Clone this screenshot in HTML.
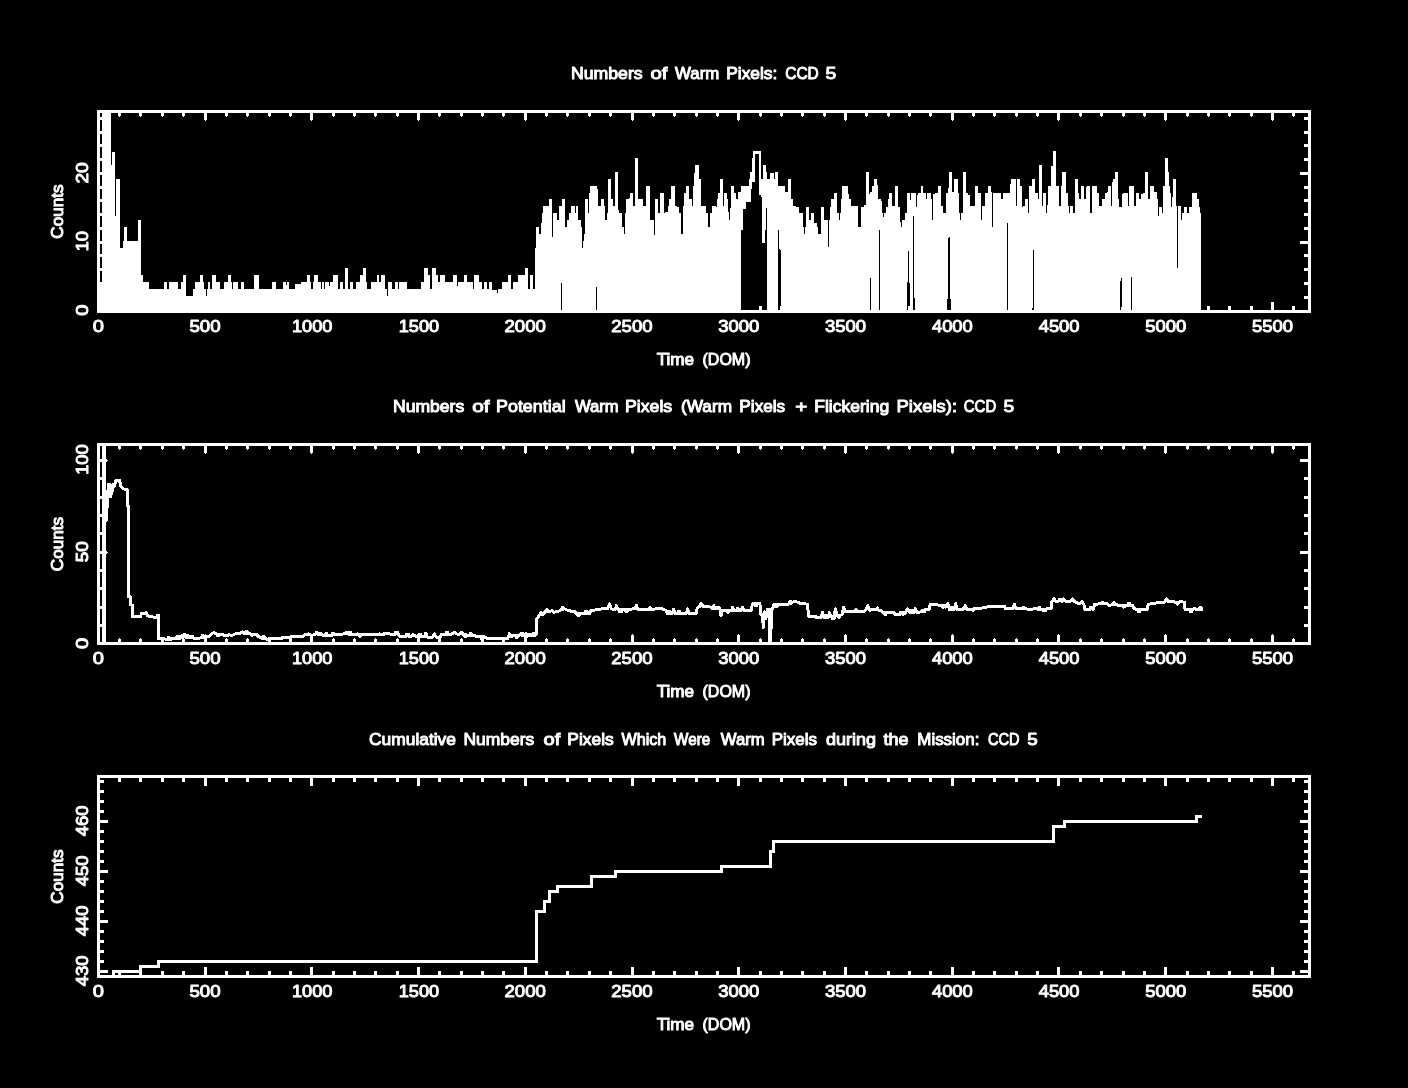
<!DOCTYPE html>
<html lang="en"><head><meta charset="utf-8"><title>Warm Pixels: CCD 5</title>
<style>
html,body{margin:0;padding:0;background:#000;}
svg{display:block;}
text{font-family:"Liberation Sans",sans-serif;font-weight:normal;font-size:17px;fill:#fff;stroke:#fff;stroke-width:1px;stroke-linejoin:round;}
</style></head>
<body>
<svg width="1408" height="1088" viewBox="0 0 1408 1088">
<rect width="1408" height="1088" fill="#000"/>
<g shape-rendering="crispEdges">
<path d="M102 310V113H111 V165H112 V152H115 V216H116 V179H120 V248H123 V241H124 V227H127 V241H138 V220H141 V275H143 V282H149 V289H164 V282H167 V289H169 V282H178 V289H181 V282H183 V275H186 V296H193 V289H195 V282H200 V275H203 V282H204 V289H206 V296H207 V289H208 V282H210 V289H212 V275H216 V282H220 V289H224 V282H228 V275H231 V282H232 V289H233 V282H238 V289H241 V282H244 V289H254 V275H259 V289H272 V282H276 V289H283 V282H286 V285H287 V282H289 V289H295 V284H301 V282H307 V275H310 V282H311 V289H313 V282H314 V275H318 V282H321 V289H322 V282H324 V289H325 V282H329 V286H330 V282H333 V275H338 V289H340 V282H343 V289H345 V268H348 V289H350 V282H353 V289H356 V282H360 V275H363 V268H366 V282H367 V289H371 V282H377 V275H379 V282H381 V275H385 V289H387 V296H388 V282H392 V289H395 V282H398 V289H399 V282H407 V289H421 V282H424 V268H428 V275H430 V289H432 V268H436 V275H438 V282H440 V275H445 V282H453 V275H457 V286H458 V282H464 V275H467 V282H473 V289H474 V275H479 V282H482 V289H484 V282H487 V289H489 V282H492 V290H497 V293H498 V289H502 V282H508 V275H511 V289H513 V282H518 V275H525 V268H528 V289H530 V275H533 V289H535 V248H536 V227H539 V234H541 V223H542 V213H543 V206H549 V199H552 V237H553 V213H557 V220H559 V206H562 V199H565 V227H567 V220H569 V213H571 V206H575 V213H576 V206H578 V220H581 V227H582 V248H583 V241H584 V234H585 V199H588 V213H589 V193H590 V186H597 V189H598 V206H601 V199H604 V206H605 V220H607 V213H608 V179H611 V199H613 V206H615 V172H618 V210H619 V213H622 V227H624 V234H625 V213H626 V199H629 V198H630 V193H633 V206H635 V158H638 V199H643 V206H646 V186H650 V220H654 V235H655 V199H658 V213H660 V193H664 V213H665 V212H668 V206H669 V199H671 V186H675 V206H677 V207H679 V213H681 V234H683 V206H684 V193H686 V186H689 V199H692 V206H693 V186H694 V173H695 V165H699 V179H701 V206H706 V213H708 V227H710 V213H712 V206H716 V207H717 V199H718 V193H720 V179H723 V206H724 V193H727 V199H728 V212H729 V220H730 V208H731 V186H734 V193H736 V199H738 V192H741 V186H749 V179H750 V172H752 V158H753 V151H761 V179H763 V165H766 V172H767 V179H770 V173H774 V179H775 V172H778 V186H785 V192H788 V179H791 V199H793 V206H796 V207H799 V213H803 V227H804 V234H805 V227H806 V207H809 V220H811 V213H814 V223H817 V227H818 V234H821 V207H824 V220H828 V247H829 V220H830 V207H831 V199H834 V193H837 V213H839 V220H840 V213H841 V199H842 V186H848 V194H849 V199H851 V206H858 V227H861 V207H864 V205H866 V172H869 V194H870 V192H872 V186H874 V179H877 V185H878 V199H881 V201H882 V213H883 V217H884 V213H886 V207H888 V199H889 V193H892 V206H895 V186H898 V207H900 V222H901 V227H902 V220H905 V213H907 V193H910 V200H911 V193H916 V207H917 V195H918 V193H921 V186H923 V193H926 V199H927 V193H931 V199H932 V220H933 V194H935 V193H938 V186H941 V206H943 V213H946 V193H948 V188H949 V172H952 V192H954 V179H958 V193H959 V213H960 V220H961 V213H963 V172H966 V193H968 V195H970 V206H975 V186H978 V193H981 V220H982 V206H985 V193H988 V186H991 V192H992 V227H993 V193H1001 V199H1003 V193H1010 V184H1011 V179H1016 V206H1017 V179H1020 V186H1022 V207H1023 V206H1025 V199H1028 V213H1029 V186H1032 V179H1035 V193H1038 V199H1039 V165H1042 V206H1043 V193H1046 V213H1047 V205H1048 V186H1051 V166H1053 V151H1056 V186H1059 V206H1061 V186H1062 V172H1066 V193H1068 V206H1069 V213H1070 V206H1073 V213H1075 V179H1078 V193H1079 V199H1081 V186H1084 V199H1086 V187H1087 V186H1090 V213H1092 V186H1097 V193H1099 V206H1102 V199H1105 V193H1107 V192H1108 V186H1111 V206H1112 V182H1113 V179H1115 V172H1118 V199H1119 V207H1122 V194H1123 V193H1128 V206H1129 V186H1134 V206H1136 V193H1139 V199H1141 V194H1143 V193H1145 V172H1148 V199H1150 V186H1154 V192H1157 V199H1158 V216H1159 V207H1162 V213H1163 V186H1165 V158H1168 V172H1169 V186H1170 V193H1171 V207H1172 V197H1173 V179H1176 V206H1181 V220H1182 V213H1184 V207H1187 V213H1189 V207H1192 V193H1197 V199H1199 V207H1200 V213H1201 V310 Z" fill="#fff"/>
<polygon points="561,283 562,283 562,310 561,310" fill="#000"/><polygon points="596,287 597,287 597,310 596,310" fill="#000"/><polygon points="741,310 741,230 743,230 743,209 746,209 746,202 751,202 751,189 752,189 752,182 755,182 755,154 759,154 759,195 761,195 761,197 762,197 762,243 765,243 765,230 766,230 766,208 767,208 767,310 762,310 762,306 759,306 759,310" fill="#000"/><polygon points="778,230 779,230 779,249 781,251 781,305 780,310 778,310" fill="#000"/><polygon points="870,278 871,278 871,310 870,310" fill="#000"/><polygon points="879,230 880,230 880,310 879,310" fill="#000"/><polygon points="908,251 909,251 909,282 910,284 910,306 908,306 908,310 907,310 907,282 908,282" fill="#000"/><polygon points="913,216 914,216 914,298 915,298 915,310 913,310" fill="#000"/><polygon points="948,238 950,236 950,299 951,299 951,310 947,310 947,299 948,299" fill="#000"/><polygon points="1007,223 1008,223 1008,310 1007,310" fill="#000"/><polygon points="1033,250 1034,250 1034,310 1032,310 1032,308 1033,308" fill="#000"/><polygon points="1121,278 1122,278 1122,305 1121,310 1120,310 1120,284" fill="#000"/><polygon points="1131,277 1132,277 1132,310 1131,310" fill="#000"/><polygon points="1177,206 1178,206 1178,268 1177,268" fill="#000"/><rect x="100" y="113" width="2" height="169" fill="#000"/><rect x="100" y="282" width="2" height="28" fill="#fff"/>
<rect x="97" y="110" width="1214" height="3" fill="#fff"/><rect x="97" y="310" width="1214" height="3" fill="#fff"/><rect x="97" y="110" width="3" height="203" fill="#fff"/><rect x="1308" y="110" width="3" height="203" fill="#fff"/><rect x="118" y="113" width="3" height="3" fill="#fff"/><rect x="119" y="116" width="1" height="1" fill="#fff"/><rect x="118" y="306" width="3" height="4" fill="#fff"/><rect x="139" y="113" width="3" height="3" fill="#fff"/><rect x="140" y="116" width="1" height="1" fill="#fff"/><rect x="139" y="306" width="3" height="4" fill="#fff"/><rect x="161" y="113" width="3" height="3" fill="#fff"/><rect x="162" y="116" width="1" height="1" fill="#fff"/><rect x="161" y="306" width="3" height="4" fill="#fff"/><rect x="182" y="113" width="3" height="3" fill="#fff"/><rect x="183" y="116" width="1" height="1" fill="#fff"/><rect x="182" y="306" width="3" height="4" fill="#fff"/><rect x="204" y="113" width="3" height="7" fill="#fff"/><rect x="205" y="120" width="1" height="1" fill="#fff"/><rect x="204" y="302" width="3" height="8" fill="#fff"/><rect x="225" y="113" width="3" height="3" fill="#fff"/><rect x="226" y="116" width="1" height="1" fill="#fff"/><rect x="225" y="306" width="3" height="4" fill="#fff"/><rect x="246" y="113" width="3" height="3" fill="#fff"/><rect x="247" y="116" width="1" height="1" fill="#fff"/><rect x="246" y="306" width="3" height="4" fill="#fff"/><rect x="268" y="113" width="3" height="3" fill="#fff"/><rect x="269" y="116" width="1" height="1" fill="#fff"/><rect x="268" y="306" width="3" height="4" fill="#fff"/><rect x="289" y="113" width="3" height="3" fill="#fff"/><rect x="290" y="116" width="1" height="1" fill="#fff"/><rect x="289" y="306" width="3" height="4" fill="#fff"/><rect x="310" y="113" width="3" height="7" fill="#fff"/><rect x="311" y="120" width="1" height="1" fill="#fff"/><rect x="310" y="302" width="3" height="8" fill="#fff"/><rect x="332" y="113" width="3" height="3" fill="#fff"/><rect x="333" y="116" width="1" height="1" fill="#fff"/><rect x="332" y="306" width="3" height="4" fill="#fff"/><rect x="353" y="113" width="3" height="3" fill="#fff"/><rect x="354" y="116" width="1" height="1" fill="#fff"/><rect x="353" y="306" width="3" height="4" fill="#fff"/><rect x="374" y="113" width="3" height="3" fill="#fff"/><rect x="375" y="116" width="1" height="1" fill="#fff"/><rect x="374" y="306" width="3" height="4" fill="#fff"/><rect x="396" y="113" width="3" height="3" fill="#fff"/><rect x="397" y="116" width="1" height="1" fill="#fff"/><rect x="396" y="306" width="3" height="4" fill="#fff"/><rect x="417" y="113" width="3" height="7" fill="#fff"/><rect x="418" y="120" width="1" height="1" fill="#fff"/><rect x="417" y="302" width="3" height="8" fill="#fff"/><rect x="438" y="113" width="3" height="3" fill="#fff"/><rect x="439" y="116" width="1" height="1" fill="#fff"/><rect x="438" y="306" width="3" height="4" fill="#fff"/><rect x="460" y="113" width="3" height="3" fill="#fff"/><rect x="461" y="116" width="1" height="1" fill="#fff"/><rect x="460" y="306" width="3" height="4" fill="#fff"/><rect x="481" y="113" width="3" height="3" fill="#fff"/><rect x="482" y="116" width="1" height="1" fill="#fff"/><rect x="481" y="306" width="3" height="4" fill="#fff"/><rect x="502" y="113" width="3" height="3" fill="#fff"/><rect x="503" y="116" width="1" height="1" fill="#fff"/><rect x="502" y="306" width="3" height="4" fill="#fff"/><rect x="524" y="113" width="3" height="7" fill="#fff"/><rect x="525" y="120" width="1" height="1" fill="#fff"/><rect x="524" y="302" width="3" height="8" fill="#fff"/><rect x="545" y="113" width="3" height="3" fill="#fff"/><rect x="546" y="116" width="1" height="1" fill="#fff"/><rect x="545" y="306" width="3" height="4" fill="#fff"/><rect x="566" y="113" width="3" height="3" fill="#fff"/><rect x="567" y="116" width="1" height="1" fill="#fff"/><rect x="566" y="306" width="3" height="4" fill="#fff"/><rect x="588" y="113" width="3" height="3" fill="#fff"/><rect x="589" y="116" width="1" height="1" fill="#fff"/><rect x="588" y="306" width="3" height="4" fill="#fff"/><rect x="609" y="113" width="3" height="3" fill="#fff"/><rect x="610" y="116" width="1" height="1" fill="#fff"/><rect x="609" y="306" width="3" height="4" fill="#fff"/><rect x="631" y="113" width="3" height="7" fill="#fff"/><rect x="632" y="120" width="1" height="1" fill="#fff"/><rect x="631" y="302" width="3" height="8" fill="#fff"/><rect x="652" y="113" width="3" height="3" fill="#fff"/><rect x="653" y="116" width="1" height="1" fill="#fff"/><rect x="652" y="306" width="3" height="4" fill="#fff"/><rect x="673" y="113" width="3" height="3" fill="#fff"/><rect x="674" y="116" width="1" height="1" fill="#fff"/><rect x="673" y="306" width="3" height="4" fill="#fff"/><rect x="695" y="113" width="3" height="3" fill="#fff"/><rect x="696" y="116" width="1" height="1" fill="#fff"/><rect x="695" y="306" width="3" height="4" fill="#fff"/><rect x="716" y="113" width="3" height="3" fill="#fff"/><rect x="717" y="116" width="1" height="1" fill="#fff"/><rect x="716" y="306" width="3" height="4" fill="#fff"/><rect x="737" y="113" width="3" height="7" fill="#fff"/><rect x="738" y="120" width="1" height="1" fill="#fff"/><rect x="737" y="302" width="3" height="8" fill="#fff"/><rect x="759" y="113" width="3" height="3" fill="#fff"/><rect x="760" y="116" width="1" height="1" fill="#fff"/><rect x="759" y="306" width="3" height="4" fill="#fff"/><rect x="780" y="113" width="3" height="3" fill="#fff"/><rect x="781" y="116" width="1" height="1" fill="#fff"/><rect x="780" y="306" width="3" height="4" fill="#fff"/><rect x="801" y="113" width="3" height="3" fill="#fff"/><rect x="802" y="116" width="1" height="1" fill="#fff"/><rect x="801" y="306" width="3" height="4" fill="#fff"/><rect x="823" y="113" width="3" height="3" fill="#fff"/><rect x="824" y="116" width="1" height="1" fill="#fff"/><rect x="823" y="306" width="3" height="4" fill="#fff"/><rect x="844" y="113" width="3" height="7" fill="#fff"/><rect x="845" y="120" width="1" height="1" fill="#fff"/><rect x="844" y="302" width="3" height="8" fill="#fff"/><rect x="865" y="113" width="3" height="3" fill="#fff"/><rect x="866" y="116" width="1" height="1" fill="#fff"/><rect x="865" y="306" width="3" height="4" fill="#fff"/><rect x="887" y="113" width="3" height="3" fill="#fff"/><rect x="888" y="116" width="1" height="1" fill="#fff"/><rect x="887" y="306" width="3" height="4" fill="#fff"/><rect x="908" y="113" width="3" height="3" fill="#fff"/><rect x="909" y="116" width="1" height="1" fill="#fff"/><rect x="908" y="306" width="3" height="4" fill="#fff"/><rect x="929" y="113" width="3" height="3" fill="#fff"/><rect x="930" y="116" width="1" height="1" fill="#fff"/><rect x="929" y="306" width="3" height="4" fill="#fff"/><rect x="951" y="113" width="3" height="7" fill="#fff"/><rect x="952" y="120" width="1" height="1" fill="#fff"/><rect x="951" y="302" width="3" height="8" fill="#fff"/><rect x="972" y="113" width="3" height="3" fill="#fff"/><rect x="973" y="116" width="1" height="1" fill="#fff"/><rect x="972" y="306" width="3" height="4" fill="#fff"/><rect x="993" y="113" width="3" height="3" fill="#fff"/><rect x="994" y="116" width="1" height="1" fill="#fff"/><rect x="993" y="306" width="3" height="4" fill="#fff"/><rect x="1015" y="113" width="3" height="3" fill="#fff"/><rect x="1016" y="116" width="1" height="1" fill="#fff"/><rect x="1015" y="306" width="3" height="4" fill="#fff"/><rect x="1036" y="113" width="3" height="3" fill="#fff"/><rect x="1037" y="116" width="1" height="1" fill="#fff"/><rect x="1036" y="306" width="3" height="4" fill="#fff"/><rect x="1057" y="113" width="3" height="7" fill="#fff"/><rect x="1058" y="120" width="1" height="1" fill="#fff"/><rect x="1057" y="302" width="3" height="8" fill="#fff"/><rect x="1079" y="113" width="3" height="3" fill="#fff"/><rect x="1080" y="116" width="1" height="1" fill="#fff"/><rect x="1079" y="306" width="3" height="4" fill="#fff"/><rect x="1100" y="113" width="3" height="3" fill="#fff"/><rect x="1101" y="116" width="1" height="1" fill="#fff"/><rect x="1100" y="306" width="3" height="4" fill="#fff"/><rect x="1122" y="113" width="3" height="3" fill="#fff"/><rect x="1123" y="116" width="1" height="1" fill="#fff"/><rect x="1122" y="306" width="3" height="4" fill="#fff"/><rect x="1143" y="113" width="3" height="3" fill="#fff"/><rect x="1144" y="116" width="1" height="1" fill="#fff"/><rect x="1143" y="306" width="3" height="4" fill="#fff"/><rect x="1164" y="113" width="3" height="7" fill="#fff"/><rect x="1165" y="120" width="1" height="1" fill="#fff"/><rect x="1164" y="302" width="3" height="8" fill="#fff"/><rect x="1186" y="113" width="3" height="3" fill="#fff"/><rect x="1187" y="116" width="1" height="1" fill="#fff"/><rect x="1186" y="306" width="3" height="4" fill="#fff"/><rect x="1207" y="113" width="3" height="3" fill="#fff"/><rect x="1208" y="116" width="1" height="1" fill="#fff"/><rect x="1207" y="306" width="3" height="4" fill="#fff"/><rect x="1228" y="113" width="3" height="3" fill="#fff"/><rect x="1229" y="116" width="1" height="1" fill="#fff"/><rect x="1228" y="306" width="3" height="4" fill="#fff"/><rect x="1250" y="113" width="3" height="3" fill="#fff"/><rect x="1251" y="116" width="1" height="1" fill="#fff"/><rect x="1250" y="306" width="3" height="4" fill="#fff"/><rect x="1271" y="113" width="3" height="7" fill="#fff"/><rect x="1272" y="120" width="1" height="1" fill="#fff"/><rect x="1271" y="302" width="3" height="8" fill="#fff"/><rect x="1292" y="113" width="3" height="3" fill="#fff"/><rect x="1293" y="116" width="1" height="1" fill="#fff"/><rect x="1292" y="306" width="3" height="4" fill="#fff"/><rect x="100" y="296" width="4" height="3" fill="#fff"/><rect x="1304" y="296" width="4" height="3" fill="#fff"/><rect x="100" y="282" width="4" height="3" fill="#fff"/><rect x="1304" y="282" width="4" height="3" fill="#fff"/><rect x="100" y="268" width="4" height="3" fill="#fff"/><rect x="1304" y="268" width="4" height="3" fill="#fff"/><rect x="100" y="254" width="4" height="3" fill="#fff"/><rect x="1304" y="254" width="4" height="3" fill="#fff"/><rect x="100" y="241" width="8" height="3" fill="#fff"/><rect x="1300" y="241" width="8" height="3" fill="#fff"/><rect x="100" y="227" width="4" height="3" fill="#fff"/><rect x="1304" y="227" width="4" height="3" fill="#fff"/><rect x="100" y="213" width="4" height="3" fill="#fff"/><rect x="1304" y="213" width="4" height="3" fill="#fff"/><rect x="100" y="199" width="4" height="3" fill="#fff"/><rect x="1304" y="199" width="4" height="3" fill="#fff"/><rect x="100" y="186" width="4" height="3" fill="#fff"/><rect x="1304" y="186" width="4" height="3" fill="#fff"/><rect x="100" y="172" width="8" height="3" fill="#fff"/><rect x="1300" y="172" width="8" height="3" fill="#fff"/><rect x="100" y="158" width="4" height="3" fill="#fff"/><rect x="1304" y="158" width="4" height="3" fill="#fff"/><rect x="100" y="144" width="4" height="3" fill="#fff"/><rect x="1304" y="144" width="4" height="3" fill="#fff"/><rect x="100" y="131" width="4" height="3" fill="#fff"/><rect x="1304" y="131" width="4" height="3" fill="#fff"/><rect x="100" y="117" width="4" height="3" fill="#fff"/><rect x="1304" y="117" width="4" height="3" fill="#fff"/>
<rect x="97" y="443" width="1214" height="3" fill="#fff"/><rect x="97" y="642" width="1214" height="3" fill="#fff"/><rect x="97" y="443" width="3" height="202" fill="#fff"/><rect x="1308" y="443" width="3" height="202" fill="#fff"/><rect x="118" y="446" width="3" height="3" fill="#fff"/><rect x="119" y="449" width="1" height="1" fill="#fff"/><rect x="118" y="639" width="3" height="3" fill="#fff"/><rect x="119" y="638" width="1" height="1" fill="#fff"/><rect x="139" y="446" width="3" height="3" fill="#fff"/><rect x="140" y="449" width="1" height="1" fill="#fff"/><rect x="139" y="639" width="3" height="3" fill="#fff"/><rect x="140" y="638" width="1" height="1" fill="#fff"/><rect x="161" y="446" width="3" height="3" fill="#fff"/><rect x="162" y="449" width="1" height="1" fill="#fff"/><rect x="161" y="639" width="3" height="3" fill="#fff"/><rect x="162" y="638" width="1" height="1" fill="#fff"/><rect x="182" y="446" width="3" height="3" fill="#fff"/><rect x="183" y="449" width="1" height="1" fill="#fff"/><rect x="182" y="639" width="3" height="3" fill="#fff"/><rect x="183" y="638" width="1" height="1" fill="#fff"/><rect x="204" y="446" width="3" height="7" fill="#fff"/><rect x="205" y="453" width="1" height="1" fill="#fff"/><rect x="204" y="635" width="3" height="7" fill="#fff"/><rect x="205" y="634" width="1" height="1" fill="#fff"/><rect x="225" y="446" width="3" height="3" fill="#fff"/><rect x="226" y="449" width="1" height="1" fill="#fff"/><rect x="225" y="639" width="3" height="3" fill="#fff"/><rect x="226" y="638" width="1" height="1" fill="#fff"/><rect x="246" y="446" width="3" height="3" fill="#fff"/><rect x="247" y="449" width="1" height="1" fill="#fff"/><rect x="246" y="639" width="3" height="3" fill="#fff"/><rect x="247" y="638" width="1" height="1" fill="#fff"/><rect x="268" y="446" width="3" height="3" fill="#fff"/><rect x="269" y="449" width="1" height="1" fill="#fff"/><rect x="268" y="639" width="3" height="3" fill="#fff"/><rect x="269" y="638" width="1" height="1" fill="#fff"/><rect x="289" y="446" width="3" height="3" fill="#fff"/><rect x="290" y="449" width="1" height="1" fill="#fff"/><rect x="289" y="639" width="3" height="3" fill="#fff"/><rect x="290" y="638" width="1" height="1" fill="#fff"/><rect x="310" y="446" width="3" height="7" fill="#fff"/><rect x="311" y="453" width="1" height="1" fill="#fff"/><rect x="310" y="635" width="3" height="7" fill="#fff"/><rect x="311" y="634" width="1" height="1" fill="#fff"/><rect x="332" y="446" width="3" height="3" fill="#fff"/><rect x="333" y="449" width="1" height="1" fill="#fff"/><rect x="332" y="639" width="3" height="3" fill="#fff"/><rect x="333" y="638" width="1" height="1" fill="#fff"/><rect x="353" y="446" width="3" height="3" fill="#fff"/><rect x="354" y="449" width="1" height="1" fill="#fff"/><rect x="353" y="639" width="3" height="3" fill="#fff"/><rect x="354" y="638" width="1" height="1" fill="#fff"/><rect x="374" y="446" width="3" height="3" fill="#fff"/><rect x="375" y="449" width="1" height="1" fill="#fff"/><rect x="374" y="639" width="3" height="3" fill="#fff"/><rect x="375" y="638" width="1" height="1" fill="#fff"/><rect x="396" y="446" width="3" height="3" fill="#fff"/><rect x="397" y="449" width="1" height="1" fill="#fff"/><rect x="396" y="639" width="3" height="3" fill="#fff"/><rect x="397" y="638" width="1" height="1" fill="#fff"/><rect x="417" y="446" width="3" height="7" fill="#fff"/><rect x="418" y="453" width="1" height="1" fill="#fff"/><rect x="417" y="635" width="3" height="7" fill="#fff"/><rect x="418" y="634" width="1" height="1" fill="#fff"/><rect x="438" y="446" width="3" height="3" fill="#fff"/><rect x="439" y="449" width="1" height="1" fill="#fff"/><rect x="438" y="639" width="3" height="3" fill="#fff"/><rect x="439" y="638" width="1" height="1" fill="#fff"/><rect x="460" y="446" width="3" height="3" fill="#fff"/><rect x="461" y="449" width="1" height="1" fill="#fff"/><rect x="460" y="639" width="3" height="3" fill="#fff"/><rect x="461" y="638" width="1" height="1" fill="#fff"/><rect x="481" y="446" width="3" height="3" fill="#fff"/><rect x="482" y="449" width="1" height="1" fill="#fff"/><rect x="481" y="639" width="3" height="3" fill="#fff"/><rect x="482" y="638" width="1" height="1" fill="#fff"/><rect x="502" y="446" width="3" height="3" fill="#fff"/><rect x="503" y="449" width="1" height="1" fill="#fff"/><rect x="502" y="639" width="3" height="3" fill="#fff"/><rect x="503" y="638" width="1" height="1" fill="#fff"/><rect x="524" y="446" width="3" height="7" fill="#fff"/><rect x="525" y="453" width="1" height="1" fill="#fff"/><rect x="524" y="635" width="3" height="7" fill="#fff"/><rect x="525" y="634" width="1" height="1" fill="#fff"/><rect x="545" y="446" width="3" height="3" fill="#fff"/><rect x="546" y="449" width="1" height="1" fill="#fff"/><rect x="545" y="639" width="3" height="3" fill="#fff"/><rect x="546" y="638" width="1" height="1" fill="#fff"/><rect x="566" y="446" width="3" height="3" fill="#fff"/><rect x="567" y="449" width="1" height="1" fill="#fff"/><rect x="566" y="639" width="3" height="3" fill="#fff"/><rect x="567" y="638" width="1" height="1" fill="#fff"/><rect x="588" y="446" width="3" height="3" fill="#fff"/><rect x="589" y="449" width="1" height="1" fill="#fff"/><rect x="588" y="639" width="3" height="3" fill="#fff"/><rect x="589" y="638" width="1" height="1" fill="#fff"/><rect x="609" y="446" width="3" height="3" fill="#fff"/><rect x="610" y="449" width="1" height="1" fill="#fff"/><rect x="609" y="639" width="3" height="3" fill="#fff"/><rect x="610" y="638" width="1" height="1" fill="#fff"/><rect x="631" y="446" width="3" height="7" fill="#fff"/><rect x="632" y="453" width="1" height="1" fill="#fff"/><rect x="631" y="635" width="3" height="7" fill="#fff"/><rect x="632" y="634" width="1" height="1" fill="#fff"/><rect x="652" y="446" width="3" height="3" fill="#fff"/><rect x="653" y="449" width="1" height="1" fill="#fff"/><rect x="652" y="639" width="3" height="3" fill="#fff"/><rect x="653" y="638" width="1" height="1" fill="#fff"/><rect x="673" y="446" width="3" height="3" fill="#fff"/><rect x="674" y="449" width="1" height="1" fill="#fff"/><rect x="673" y="639" width="3" height="3" fill="#fff"/><rect x="674" y="638" width="1" height="1" fill="#fff"/><rect x="695" y="446" width="3" height="3" fill="#fff"/><rect x="696" y="449" width="1" height="1" fill="#fff"/><rect x="695" y="639" width="3" height="3" fill="#fff"/><rect x="696" y="638" width="1" height="1" fill="#fff"/><rect x="716" y="446" width="3" height="3" fill="#fff"/><rect x="717" y="449" width="1" height="1" fill="#fff"/><rect x="716" y="639" width="3" height="3" fill="#fff"/><rect x="717" y="638" width="1" height="1" fill="#fff"/><rect x="737" y="446" width="3" height="7" fill="#fff"/><rect x="738" y="453" width="1" height="1" fill="#fff"/><rect x="737" y="635" width="3" height="7" fill="#fff"/><rect x="738" y="634" width="1" height="1" fill="#fff"/><rect x="759" y="446" width="3" height="3" fill="#fff"/><rect x="760" y="449" width="1" height="1" fill="#fff"/><rect x="759" y="639" width="3" height="3" fill="#fff"/><rect x="760" y="638" width="1" height="1" fill="#fff"/><rect x="780" y="446" width="3" height="3" fill="#fff"/><rect x="781" y="449" width="1" height="1" fill="#fff"/><rect x="780" y="639" width="3" height="3" fill="#fff"/><rect x="781" y="638" width="1" height="1" fill="#fff"/><rect x="801" y="446" width="3" height="3" fill="#fff"/><rect x="802" y="449" width="1" height="1" fill="#fff"/><rect x="801" y="639" width="3" height="3" fill="#fff"/><rect x="802" y="638" width="1" height="1" fill="#fff"/><rect x="823" y="446" width="3" height="3" fill="#fff"/><rect x="824" y="449" width="1" height="1" fill="#fff"/><rect x="823" y="639" width="3" height="3" fill="#fff"/><rect x="824" y="638" width="1" height="1" fill="#fff"/><rect x="844" y="446" width="3" height="7" fill="#fff"/><rect x="845" y="453" width="1" height="1" fill="#fff"/><rect x="844" y="635" width="3" height="7" fill="#fff"/><rect x="845" y="634" width="1" height="1" fill="#fff"/><rect x="865" y="446" width="3" height="3" fill="#fff"/><rect x="866" y="449" width="1" height="1" fill="#fff"/><rect x="865" y="639" width="3" height="3" fill="#fff"/><rect x="866" y="638" width="1" height="1" fill="#fff"/><rect x="887" y="446" width="3" height="3" fill="#fff"/><rect x="888" y="449" width="1" height="1" fill="#fff"/><rect x="887" y="639" width="3" height="3" fill="#fff"/><rect x="888" y="638" width="1" height="1" fill="#fff"/><rect x="908" y="446" width="3" height="3" fill="#fff"/><rect x="909" y="449" width="1" height="1" fill="#fff"/><rect x="908" y="639" width="3" height="3" fill="#fff"/><rect x="909" y="638" width="1" height="1" fill="#fff"/><rect x="929" y="446" width="3" height="3" fill="#fff"/><rect x="930" y="449" width="1" height="1" fill="#fff"/><rect x="929" y="639" width="3" height="3" fill="#fff"/><rect x="930" y="638" width="1" height="1" fill="#fff"/><rect x="951" y="446" width="3" height="7" fill="#fff"/><rect x="952" y="453" width="1" height="1" fill="#fff"/><rect x="951" y="635" width="3" height="7" fill="#fff"/><rect x="952" y="634" width="1" height="1" fill="#fff"/><rect x="972" y="446" width="3" height="3" fill="#fff"/><rect x="973" y="449" width="1" height="1" fill="#fff"/><rect x="972" y="639" width="3" height="3" fill="#fff"/><rect x="973" y="638" width="1" height="1" fill="#fff"/><rect x="993" y="446" width="3" height="3" fill="#fff"/><rect x="994" y="449" width="1" height="1" fill="#fff"/><rect x="993" y="639" width="3" height="3" fill="#fff"/><rect x="994" y="638" width="1" height="1" fill="#fff"/><rect x="1015" y="446" width="3" height="3" fill="#fff"/><rect x="1016" y="449" width="1" height="1" fill="#fff"/><rect x="1015" y="639" width="3" height="3" fill="#fff"/><rect x="1016" y="638" width="1" height="1" fill="#fff"/><rect x="1036" y="446" width="3" height="3" fill="#fff"/><rect x="1037" y="449" width="1" height="1" fill="#fff"/><rect x="1036" y="639" width="3" height="3" fill="#fff"/><rect x="1037" y="638" width="1" height="1" fill="#fff"/><rect x="1057" y="446" width="3" height="7" fill="#fff"/><rect x="1058" y="453" width="1" height="1" fill="#fff"/><rect x="1057" y="635" width="3" height="7" fill="#fff"/><rect x="1058" y="634" width="1" height="1" fill="#fff"/><rect x="1079" y="446" width="3" height="3" fill="#fff"/><rect x="1080" y="449" width="1" height="1" fill="#fff"/><rect x="1079" y="639" width="3" height="3" fill="#fff"/><rect x="1080" y="638" width="1" height="1" fill="#fff"/><rect x="1100" y="446" width="3" height="3" fill="#fff"/><rect x="1101" y="449" width="1" height="1" fill="#fff"/><rect x="1100" y="639" width="3" height="3" fill="#fff"/><rect x="1101" y="638" width="1" height="1" fill="#fff"/><rect x="1122" y="446" width="3" height="3" fill="#fff"/><rect x="1123" y="449" width="1" height="1" fill="#fff"/><rect x="1122" y="639" width="3" height="3" fill="#fff"/><rect x="1123" y="638" width="1" height="1" fill="#fff"/><rect x="1143" y="446" width="3" height="3" fill="#fff"/><rect x="1144" y="449" width="1" height="1" fill="#fff"/><rect x="1143" y="639" width="3" height="3" fill="#fff"/><rect x="1144" y="638" width="1" height="1" fill="#fff"/><rect x="1164" y="446" width="3" height="7" fill="#fff"/><rect x="1165" y="453" width="1" height="1" fill="#fff"/><rect x="1164" y="635" width="3" height="7" fill="#fff"/><rect x="1165" y="634" width="1" height="1" fill="#fff"/><rect x="1186" y="446" width="3" height="3" fill="#fff"/><rect x="1187" y="449" width="1" height="1" fill="#fff"/><rect x="1186" y="639" width="3" height="3" fill="#fff"/><rect x="1187" y="638" width="1" height="1" fill="#fff"/><rect x="1207" y="446" width="3" height="3" fill="#fff"/><rect x="1208" y="449" width="1" height="1" fill="#fff"/><rect x="1207" y="639" width="3" height="3" fill="#fff"/><rect x="1208" y="638" width="1" height="1" fill="#fff"/><rect x="1228" y="446" width="3" height="3" fill="#fff"/><rect x="1229" y="449" width="1" height="1" fill="#fff"/><rect x="1228" y="639" width="3" height="3" fill="#fff"/><rect x="1229" y="638" width="1" height="1" fill="#fff"/><rect x="1250" y="446" width="3" height="3" fill="#fff"/><rect x="1251" y="449" width="1" height="1" fill="#fff"/><rect x="1250" y="639" width="3" height="3" fill="#fff"/><rect x="1251" y="638" width="1" height="1" fill="#fff"/><rect x="1271" y="446" width="3" height="7" fill="#fff"/><rect x="1272" y="453" width="1" height="1" fill="#fff"/><rect x="1271" y="635" width="3" height="7" fill="#fff"/><rect x="1272" y="634" width="1" height="1" fill="#fff"/><rect x="1292" y="446" width="3" height="3" fill="#fff"/><rect x="1293" y="449" width="1" height="1" fill="#fff"/><rect x="1292" y="639" width="3" height="3" fill="#fff"/><rect x="1293" y="638" width="1" height="1" fill="#fff"/><rect x="100" y="624" width="3" height="3" fill="#fff"/><rect x="103" y="625" width="1" height="1" fill="#fff"/><rect x="1304" y="624" width="4" height="3" fill="#fff"/><rect x="100" y="606" width="3" height="3" fill="#fff"/><rect x="103" y="607" width="1" height="1" fill="#fff"/><rect x="1304" y="606" width="4" height="3" fill="#fff"/><rect x="100" y="587" width="3" height="3" fill="#fff"/><rect x="103" y="588" width="1" height="1" fill="#fff"/><rect x="1304" y="587" width="4" height="3" fill="#fff"/><rect x="100" y="569" width="3" height="3" fill="#fff"/><rect x="103" y="570" width="1" height="1" fill="#fff"/><rect x="1304" y="569" width="4" height="3" fill="#fff"/><rect x="100" y="551" width="7" height="3" fill="#fff"/><rect x="107" y="552" width="1" height="1" fill="#fff"/><rect x="1300" y="551" width="8" height="3" fill="#fff"/><rect x="100" y="532" width="3" height="3" fill="#fff"/><rect x="103" y="533" width="1" height="1" fill="#fff"/><rect x="1304" y="532" width="4" height="3" fill="#fff"/><rect x="100" y="514" width="3" height="3" fill="#fff"/><rect x="103" y="515" width="1" height="1" fill="#fff"/><rect x="1304" y="514" width="4" height="3" fill="#fff"/><rect x="100" y="496" width="3" height="3" fill="#fff"/><rect x="103" y="497" width="1" height="1" fill="#fff"/><rect x="1304" y="496" width="4" height="3" fill="#fff"/><rect x="100" y="477" width="3" height="3" fill="#fff"/><rect x="103" y="478" width="1" height="1" fill="#fff"/><rect x="1304" y="477" width="4" height="3" fill="#fff"/><rect x="100" y="459" width="7" height="3" fill="#fff"/><rect x="107" y="460" width="1" height="1" fill="#fff"/><rect x="1300" y="459" width="8" height="3" fill="#fff"/>
<rect x="97" y="775" width="1214" height="3" fill="#fff"/><rect x="97" y="975" width="1214" height="3" fill="#fff"/><rect x="97" y="775" width="3" height="203" fill="#fff"/><rect x="1308" y="775" width="3" height="203" fill="#fff"/><rect x="118" y="778" width="3" height="4" fill="#fff"/><rect x="118" y="971" width="3" height="4" fill="#fff"/><rect x="139" y="778" width="3" height="4" fill="#fff"/><rect x="139" y="971" width="3" height="4" fill="#fff"/><rect x="161" y="778" width="3" height="4" fill="#fff"/><rect x="161" y="971" width="3" height="4" fill="#fff"/><rect x="182" y="778" width="3" height="4" fill="#fff"/><rect x="182" y="971" width="3" height="4" fill="#fff"/><rect x="204" y="778" width="3" height="8" fill="#fff"/><rect x="204" y="967" width="3" height="8" fill="#fff"/><rect x="225" y="778" width="3" height="4" fill="#fff"/><rect x="225" y="971" width="3" height="4" fill="#fff"/><rect x="246" y="778" width="3" height="4" fill="#fff"/><rect x="246" y="971" width="3" height="4" fill="#fff"/><rect x="268" y="778" width="3" height="4" fill="#fff"/><rect x="268" y="971" width="3" height="4" fill="#fff"/><rect x="289" y="778" width="3" height="4" fill="#fff"/><rect x="289" y="971" width="3" height="4" fill="#fff"/><rect x="310" y="778" width="3" height="8" fill="#fff"/><rect x="310" y="967" width="3" height="8" fill="#fff"/><rect x="332" y="778" width="3" height="4" fill="#fff"/><rect x="332" y="971" width="3" height="4" fill="#fff"/><rect x="353" y="778" width="3" height="4" fill="#fff"/><rect x="353" y="971" width="3" height="4" fill="#fff"/><rect x="374" y="778" width="3" height="4" fill="#fff"/><rect x="374" y="971" width="3" height="4" fill="#fff"/><rect x="396" y="778" width="3" height="4" fill="#fff"/><rect x="396" y="971" width="3" height="4" fill="#fff"/><rect x="417" y="778" width="3" height="8" fill="#fff"/><rect x="417" y="967" width="3" height="8" fill="#fff"/><rect x="438" y="778" width="3" height="4" fill="#fff"/><rect x="438" y="971" width="3" height="4" fill="#fff"/><rect x="460" y="778" width="3" height="4" fill="#fff"/><rect x="460" y="971" width="3" height="4" fill="#fff"/><rect x="481" y="778" width="3" height="4" fill="#fff"/><rect x="481" y="971" width="3" height="4" fill="#fff"/><rect x="502" y="778" width="3" height="4" fill="#fff"/><rect x="502" y="971" width="3" height="4" fill="#fff"/><rect x="524" y="778" width="3" height="8" fill="#fff"/><rect x="524" y="967" width="3" height="8" fill="#fff"/><rect x="545" y="778" width="3" height="4" fill="#fff"/><rect x="545" y="971" width="3" height="4" fill="#fff"/><rect x="566" y="778" width="3" height="4" fill="#fff"/><rect x="566" y="971" width="3" height="4" fill="#fff"/><rect x="588" y="778" width="3" height="4" fill="#fff"/><rect x="588" y="971" width="3" height="4" fill="#fff"/><rect x="609" y="778" width="3" height="4" fill="#fff"/><rect x="609" y="971" width="3" height="4" fill="#fff"/><rect x="631" y="778" width="3" height="8" fill="#fff"/><rect x="631" y="967" width="3" height="8" fill="#fff"/><rect x="652" y="778" width="3" height="4" fill="#fff"/><rect x="652" y="971" width="3" height="4" fill="#fff"/><rect x="673" y="778" width="3" height="4" fill="#fff"/><rect x="673" y="971" width="3" height="4" fill="#fff"/><rect x="695" y="778" width="3" height="4" fill="#fff"/><rect x="695" y="971" width="3" height="4" fill="#fff"/><rect x="716" y="778" width="3" height="4" fill="#fff"/><rect x="716" y="971" width="3" height="4" fill="#fff"/><rect x="737" y="778" width="3" height="8" fill="#fff"/><rect x="737" y="967" width="3" height="8" fill="#fff"/><rect x="759" y="778" width="3" height="4" fill="#fff"/><rect x="759" y="971" width="3" height="4" fill="#fff"/><rect x="780" y="778" width="3" height="4" fill="#fff"/><rect x="780" y="971" width="3" height="4" fill="#fff"/><rect x="801" y="778" width="3" height="4" fill="#fff"/><rect x="801" y="971" width="3" height="4" fill="#fff"/><rect x="823" y="778" width="3" height="4" fill="#fff"/><rect x="823" y="971" width="3" height="4" fill="#fff"/><rect x="844" y="778" width="3" height="8" fill="#fff"/><rect x="844" y="967" width="3" height="8" fill="#fff"/><rect x="865" y="778" width="3" height="4" fill="#fff"/><rect x="865" y="971" width="3" height="4" fill="#fff"/><rect x="887" y="778" width="3" height="4" fill="#fff"/><rect x="887" y="971" width="3" height="4" fill="#fff"/><rect x="908" y="778" width="3" height="4" fill="#fff"/><rect x="908" y="971" width="3" height="4" fill="#fff"/><rect x="929" y="778" width="3" height="4" fill="#fff"/><rect x="929" y="971" width="3" height="4" fill="#fff"/><rect x="951" y="778" width="3" height="8" fill="#fff"/><rect x="951" y="967" width="3" height="8" fill="#fff"/><rect x="972" y="778" width="3" height="4" fill="#fff"/><rect x="972" y="971" width="3" height="4" fill="#fff"/><rect x="993" y="778" width="3" height="4" fill="#fff"/><rect x="993" y="971" width="3" height="4" fill="#fff"/><rect x="1015" y="778" width="3" height="4" fill="#fff"/><rect x="1015" y="971" width="3" height="4" fill="#fff"/><rect x="1036" y="778" width="3" height="4" fill="#fff"/><rect x="1036" y="971" width="3" height="4" fill="#fff"/><rect x="1057" y="778" width="3" height="8" fill="#fff"/><rect x="1057" y="967" width="3" height="8" fill="#fff"/><rect x="1079" y="778" width="3" height="4" fill="#fff"/><rect x="1079" y="971" width="3" height="4" fill="#fff"/><rect x="1100" y="778" width="3" height="4" fill="#fff"/><rect x="1100" y="971" width="3" height="4" fill="#fff"/><rect x="1122" y="778" width="3" height="4" fill="#fff"/><rect x="1122" y="971" width="3" height="4" fill="#fff"/><rect x="1143" y="778" width="3" height="4" fill="#fff"/><rect x="1143" y="971" width="3" height="4" fill="#fff"/><rect x="1164" y="778" width="3" height="8" fill="#fff"/><rect x="1164" y="967" width="3" height="8" fill="#fff"/><rect x="1186" y="778" width="3" height="4" fill="#fff"/><rect x="1186" y="971" width="3" height="4" fill="#fff"/><rect x="1207" y="778" width="3" height="4" fill="#fff"/><rect x="1207" y="971" width="3" height="4" fill="#fff"/><rect x="1228" y="778" width="3" height="4" fill="#fff"/><rect x="1228" y="971" width="3" height="4" fill="#fff"/><rect x="1250" y="778" width="3" height="4" fill="#fff"/><rect x="1250" y="971" width="3" height="4" fill="#fff"/><rect x="1271" y="778" width="3" height="8" fill="#fff"/><rect x="1271" y="967" width="3" height="8" fill="#fff"/><rect x="1292" y="778" width="3" height="4" fill="#fff"/><rect x="1292" y="971" width="3" height="4" fill="#fff"/><rect x="100" y="970" width="8" height="3" fill="#fff"/><rect x="1300" y="970" width="8" height="3" fill="#fff"/><rect x="100" y="960" width="4" height="3" fill="#fff"/><rect x="1304" y="960" width="4" height="3" fill="#fff"/><rect x="100" y="950" width="4" height="3" fill="#fff"/><rect x="1304" y="950" width="4" height="3" fill="#fff"/><rect x="100" y="940" width="4" height="3" fill="#fff"/><rect x="1304" y="940" width="4" height="3" fill="#fff"/><rect x="100" y="930" width="4" height="3" fill="#fff"/><rect x="1304" y="930" width="4" height="3" fill="#fff"/><rect x="100" y="920" width="8" height="3" fill="#fff"/><rect x="1300" y="920" width="8" height="3" fill="#fff"/><rect x="100" y="910" width="4" height="3" fill="#fff"/><rect x="1304" y="910" width="4" height="3" fill="#fff"/><rect x="100" y="900" width="4" height="3" fill="#fff"/><rect x="1304" y="900" width="4" height="3" fill="#fff"/><rect x="100" y="890" width="4" height="3" fill="#fff"/><rect x="1304" y="890" width="4" height="3" fill="#fff"/><rect x="100" y="880" width="4" height="3" fill="#fff"/><rect x="1304" y="880" width="4" height="3" fill="#fff"/><rect x="100" y="870" width="8" height="3" fill="#fff"/><rect x="1300" y="870" width="8" height="3" fill="#fff"/><rect x="100" y="860" width="4" height="3" fill="#fff"/><rect x="1304" y="860" width="4" height="3" fill="#fff"/><rect x="100" y="850" width="4" height="3" fill="#fff"/><rect x="1304" y="850" width="4" height="3" fill="#fff"/><rect x="100" y="840" width="4" height="3" fill="#fff"/><rect x="1304" y="840" width="4" height="3" fill="#fff"/><rect x="100" y="830" width="4" height="3" fill="#fff"/><rect x="1304" y="830" width="4" height="3" fill="#fff"/><rect x="100" y="820" width="8" height="3" fill="#fff"/><rect x="1300" y="820" width="8" height="3" fill="#fff"/><rect x="100" y="810" width="4" height="3" fill="#fff"/><rect x="1304" y="810" width="4" height="3" fill="#fff"/><rect x="100" y="800" width="4" height="3" fill="#fff"/><rect x="1304" y="800" width="4" height="3" fill="#fff"/><rect x="100" y="790" width="4" height="3" fill="#fff"/><rect x="1304" y="790" width="4" height="3" fill="#fff"/><rect x="100" y="780" width="4" height="3" fill="#fff"/><rect x="1304" y="780" width="4" height="3" fill="#fff"/>
<polyline points="103.5,643 103.5,446 104.5,446 105,500 105.5,520 106.5,520 107.5,497 108.5,484 109.5,484 110.5,497 112,492 113,484 114.5,486 116,480 119.5,480 121,487 124,489 127.5,490 127.5,506 128.5,506 128.5,596.7 130.5,596.7 130.5,605 132.6,605 132.6,616.5 132.6,616.5 140.7,616.5 141.6,613.1 143.3,613.7 145.9,612.6 147.6,615.8 154,617.3 157,617.3 157.8,615.2 158.7,615.6 158.7,638.7 163.6,638.7 166.8,639.5 168.3,639.4 168.3,637.5 169.3,637.5 169.3,639.4 171,639.1 175.3,638.2 176.8,638.4 176.8,636.6 178.8,636.6 178.8,638.4 179.6,638.7 181.1,637.7 181.1,635.9 182.1,635.9 182.1,637.7 183,636.5 184.2,634 185.5,637 187,637.2 187,635.4 188,635.4 188,637.2 190.2,637.8 191.7,638 191.7,636.2 192.7,636.2 192.7,638 196.6,638.7 200.9,637.8 202.4,637.6 202.4,635.7 203.4,635.7 203.4,637.6 206.2,637 209.4,636.5 212,633.5 214.1,632.5 216.2,634 217.7,634.1 217.7,635.9 218.7,635.9 218.7,634.1 222.2,634.4 224.3,635.7 229.7,634.8 231.8,635.7 235,634 240.3,633.5 242.5,631.8 244.6,633.5 246.1,633.5 246.1,631.7 247.1,631.7 247.1,633.5 249.9,633.5 252,635.2 256.3,634 258.4,636.5 261.6,638.2 263.1,638.5 263.1,636.6 264.1,636.6 264.1,638.5 267,639.1 273.4,638.7 281.9,638.2 283,637 288.3,637.4 289.8,637 289.8,638.8 290.8,638.8 290.8,637 291.5,636.5 297.9,637 303.2,636.5 304.3,634.8 308.6,634 310.7,635.2 314.9,634.8 316.4,632.3 318.6,634.8 320.1,634.9 320.1,633.1 321.1,633.1 321.1,634.9 324.5,635.2 326,635.3 326,633.5 327,633.5 327,635.3 330.9,635.7 332.4,634.9 332.4,633 333.4,633 333.4,634.9 334.1,634 341.6,634.4 344.8,633.5 346.5,632.3 348,634 349.5,634.1 349.5,632.2 350.5,632.2 350.5,634.1 354.4,634.4 357.6,634 359.1,634.3 359.1,636.1 361.1,636.1 361.1,634.3 361.9,634.8 364,634 367.2,635 377.8,634.8 379.6,634 383.2,634.8 384.2,633.5 390,634 395.5,634 395.5,632.1 397.5,632.1 397.5,634 398.1,634 399,636.1 406.5,636.1 406.5,634.3 408.5,634.3 408.5,636.1 411.3,636.1 413,634.4 415.2,636.1 418.7,636.3 418.7,634.5 420.7,634.5 420.7,636.3 422,636.5 424.1,637 425.8,633.1 427.5,637 432.6,637 434.3,634 436.1,637 440.3,637.4 441.2,634.4 446.7,634.2 446.7,632.3 447.7,632.3 447.7,634.2 451.8,634 454.8,632.3 457,634 459.9,634 461.6,632.3 463.3,634.4 464.8,634.8 464.8,636.6 465.8,636.6 465.8,634.8 466.8,635.2 470.3,635.4 470.3,633.6 471.3,633.6 471.3,635.4 475.3,635.7 476.1,637 479.6,636.5 481.1,636.7 481.1,638.6 483.1,638.6 483.1,636.7 485.9,637.4 487,638.7 507.7,638.7 508.6,636.1 509.4,633.5 510.7,636.1 516.2,635.8 516.2,637.6 517.2,637.6 517.2,635.8 517.9,635.7 520.1,634.8 521.6,635.1 521.6,633.3 522.6,633.3 522.6,635.1 524.3,635.7 526,633.1 527.7,636.1 529.2,635.9 529.2,634.1 531.2,634.1 531.2,635.9 533.2,635.5 533.2,633.7 534.2,633.7 534.2,635.5 535.8,635.2 536.7,634 536.7,618.6 538.4,617.3 539.3,614.8 540.8,614.6 540.8,612.8 541.8,612.8 541.8,614.6 543.5,614.3 544.8,611.8 546.3,611.6 546.3,609.8 547.3,609.8 547.3,611.6 552,610.9 554.2,612.2 558.4,611.4 560.6,610.1 562.1,609.3 562.1,607.5 563.1,607.5 563.1,609.3 563.8,608.4 566.5,609.7 569.1,610.9 575.1,611.4 575.9,613.5 577.4,613.5 577.4,615.3 579.4,615.3 579.4,613.5 585.4,613.5 585.4,611.7 587.4,611.7 587.4,613.5 589.6,613.5 590.9,610.5 594.7,610.1 600,609.2 603.2,608.4 607.9,608.4 609.6,603.7 611.3,608.8 614.9,609.7 616.4,605.8 618.1,609.7 619.6,609.6 619.6,611.4 621.6,611.4 621.6,609.6 625.6,609.4 625.6,611.2 627.6,611.2 627.6,609.4 629.9,609.2 635.2,608.8 636.5,605.4 637.8,609.2 648,609.7 649.5,609.5 649.5,607.7 650.5,607.7 650.5,609.5 656.5,608.8 660.8,608.4 664,609.7 666.3,610.5 667.2,613.3 668.7,613.3 668.7,611.5 669.7,611.5 669.7,613.3 672.5,613.3 673.6,609.2 674.9,613.3 678.4,613.3 678.4,611.5 679.4,611.5 679.4,613.3 686.4,613.3 687.7,608.8 688.9,613.3 690,613.3 696.4,613.3 697.2,608 699.8,606.2 701.1,603.3 702.8,606.2 710.9,607.1 712.2,608.8 713.9,605.8 715.6,608.8 717.1,608.8 717.1,607 719.1,607 719.1,608.8 719.4,608.8 720.3,610.5 721.1,616.1 722,610.5 727.5,610.5 727.5,612.3 728.5,612.3 728.5,610.5 731.6,610.5 732.6,607.5 733.9,610.5 737.4,610.5 737.4,608.7 738.4,608.7 738.4,610.5 740.7,610.5 742.5,607.5 744.2,610.5 751.4,610.1 752.3,604.1 754,603.7 755.5,603.7 755.5,605.5 756.5,605.5 756.5,603.7 759.9,603.7 760.8,614.3 762.5,615.2 763.3,627.6 764.6,611.8 765.9,618.6 767.2,609.7 769.1,609.7 769.4,642.1 770.9,642.1 771.2,609.7 772.7,608.4 774,604.5 775.5,604.5 775.5,606.3 777.5,606.3 777.5,604.5 788.1,604.1 789.6,603.5 789.6,601.7 790.6,601.7 790.6,603.5 792.3,602.4 795.3,601.1 797.9,602.4 800.9,603.7 807.7,604.1 808.3,616.1 815.4,616.1 816.2,617.8 821.3,617.3 822.6,612.2 823.9,617.3 825.4,617.3 825.4,615.5 826.4,615.5 826.4,617.3 828.2,617.3 829.4,612.6 830.7,616.9 832.2,616.5 832.2,618.4 834.2,618.4 834.2,616.5 834.1,616.1 835.4,608.8 837.1,615.6 838.6,615.4 838.6,617.2 839.6,617.2 839.6,615.4 842.2,614.8 843.5,607.1 845.2,611.8 852,611.8 855.5,611.7 855.5,609.8 856.5,609.8 856.5,611.7 864.4,611.4 866.1,609.7 867.8,605.4 869.5,610.1 875.5,609.7 877.2,608 878.9,610.5 881.9,610.9 883.2,612.6 884.7,612.6 884.7,614.5 885.7,614.5 885.7,612.6 893.6,612.6 895.1,614.3 900.6,614.1 900.6,612.3 902.6,612.3 902.6,614.1 904.9,613.9 905.8,612.2 907.5,608.8 909.2,612.2 910.7,612.2 910.7,610.4 911.7,610.4 911.7,612.2 913.9,612.2 915.2,608.8 916.9,612.2 922.4,611.9 922.4,610.1 924.4,610.1 924.4,611.9 924.1,611.8 925,609.7 929.2,609.2 930.1,604.5 941.2,605.2 942.5,607.3 944,607.1 944,605.3 945,605.3 945,607.1 946.9,606.7 948,603.7 949.7,609.7 951.2,609.5 951.2,607.7 952.2,607.7 952.2,609.5 954.4,609.2 955.7,603.7 957.4,609.7 963.3,609.2 965.1,605.8 967.2,609.7 973.2,610.1 974.4,608.4 982.1,608 986.4,607.1 990,606.2 1004.5,606.2 1005.4,608.4 1013,608.4 1014.3,604.1 1016,608.4 1021.6,608.8 1023.1,608.9 1023.1,607 1024.1,607 1024.1,608.9 1032.6,609.2 1034.8,608 1037.3,609.2 1038.8,609.2 1038.8,607.4 1039.8,607.4 1039.8,609.2 1043.8,609 1043.8,610.9 1045.8,610.9 1045.8,609 1051,608.8 1051.8,602 1054,598.6 1055.7,601.1 1059.2,601.1 1059.2,599.3 1061.2,599.3 1061.2,601.1 1062.1,601.1 1063.8,599 1065.5,601.1 1070.6,601.1 1072.3,599 1074.9,602 1079.6,603.7 1081.7,601.6 1083.8,604.1 1084.7,609.2 1090.2,609.2 1090.2,607.4 1092.2,607.4 1092.2,609.2 1093.6,609.2 1094.5,604.1 1102,603.9 1102,602 1103,602 1103,603.9 1107.3,603.7 1109.4,605.4 1112.9,604.7 1112.9,602.9 1114.9,602.9 1114.9,604.7 1115.8,604.1 1117.9,605.2 1123.4,605.2 1123.4,607 1124.4,607 1124.4,605.2 1128.4,605.2 1128.4,603.4 1129.4,603.4 1129.4,605.2 1132.4,605.2 1133.7,608.4 1137.1,609.7 1138.6,609.6 1138.6,611.4 1139.6,611.4 1139.6,609.6 1147.4,609.2 1148.2,604.5 1152,603.3 1164,602.4 1166.5,599 1168.7,602 1173.4,601.6 1175.5,602.4 1177,602.2 1177,604 1178,604 1178,602.2 1181.9,601.6 1184.5,602.4 1185.1,609.7 1190.6,609.7 1190.6,611.5 1191.6,611.5 1191.6,609.7 1192.6,609.7 1194.3,608.4 1196,609.7 1199.5,609.7 1199.5,607.8 1201.5,607.8 1201.5,609.7 1201.1,609.7" fill="none" stroke="#fff" stroke-width="3" stroke-linejoin="round"/>
<rect x="102" y="446" width="3" height="197" fill="#fff"/><rect x="105" y="499" width="1" height="144" fill="#fff"/><rect x="100" y="446" width="2" height="196" fill="#000"/><rect x="100" y="642" width="2" height="3" fill="#fff"/><rect x="100" y="624" width="2" height="3" fill="#fff"/><rect x="100" y="606" width="2" height="3" fill="#fff"/><rect x="100" y="587" width="2" height="3" fill="#fff"/><rect x="100" y="569" width="2" height="3" fill="#fff"/><rect x="100" y="551" width="2" height="3" fill="#fff"/><rect x="100" y="532" width="2" height="3" fill="#fff"/><rect x="100" y="514" width="2" height="3" fill="#fff"/><rect x="100" y="496" width="2" height="3" fill="#fff"/><rect x="100" y="477" width="2" height="3" fill="#fff"/><rect x="100" y="459" width="2" height="3" fill="#fff"/><polyline points="113.5,976 113.5,971.5 140.5,971.5 140.5,966.5 158.2,966.5 158.2,961.5 536.6,961.5 536.6,911.5 544.8,911.5 544.8,901.5 549.9,901.5 549.9,891.5 557.5,891.5 557.5,886.5 591.6,886.5 591.6,876.5 615.6,876.5 615.6,871.5 721.5,871.5 721.5,866.5 770.6,866.5 770.6,851.5 773.7,851.5 773.7,841.5 1053.7,841.5 1053.7,826.5 1064.8,826.5 1064.8,821.5 1196.3,821.5 1196.3,816.5 1200.8,816.5" fill="none" stroke="#fff" stroke-width="3" stroke-linejoin="miter" stroke-linecap="square"/>
</g>
<text x="571.03" y="79.1" textLength="71.57" lengthAdjust="spacingAndGlyphs">Numbers</text><text x="650.60" y="79.1" textLength="16.92" lengthAdjust="spacingAndGlyphs">of</text><text x="675.11" y="79.1" textLength="44.13" lengthAdjust="spacingAndGlyphs">Warm</text><text x="726.25" y="79.1" textLength="51.10" lengthAdjust="spacingAndGlyphs">Pixels:</text><text x="785.23" y="79.1" textLength="33.54" lengthAdjust="spacingAndGlyphs">CCD</text><text x="825.44" y="79.1" textLength="10.83" lengthAdjust="spacingAndGlyphs">5</text>
<text x="393.04" y="412.1" textLength="71.16" lengthAdjust="spacingAndGlyphs">Numbers</text><text x="472.18" y="412.1" textLength="17.34" lengthAdjust="spacingAndGlyphs">of</text><text x="496.01" y="412.1" textLength="69.63" lengthAdjust="spacingAndGlyphs">Potential</text><text x="574.91" y="412.1" textLength="43.72" lengthAdjust="spacingAndGlyphs">Warm</text><text x="625.03" y="412.1" textLength="47.18" lengthAdjust="spacingAndGlyphs">Pixels</text><text x="680.95" y="412.1" textLength="51.12" lengthAdjust="spacingAndGlyphs">(Warm</text><text x="739.37" y="412.1" textLength="45.81" lengthAdjust="spacingAndGlyphs">Pixels</text><text x="795.27" y="412.1" textLength="12.08" lengthAdjust="spacingAndGlyphs">+</text><text x="814.24" y="412.1" textLength="75.05" lengthAdjust="spacingAndGlyphs">Flickering</text><text x="896.56" y="412.1" textLength="60.49" lengthAdjust="spacingAndGlyphs">Pixels):</text><text x="963.75" y="412.1" textLength="32.50" lengthAdjust="spacingAndGlyphs">CCD</text><text x="1003.45" y="412.1" textLength="10.71" lengthAdjust="spacingAndGlyphs">5</text>
<text x="369.03" y="744.6" textLength="86.98" lengthAdjust="spacingAndGlyphs">Cumulative</text><text x="463.45" y="744.6" textLength="70.75" lengthAdjust="spacingAndGlyphs">Numbers</text><text x="543.61" y="744.6" textLength="16.70" lengthAdjust="spacingAndGlyphs">of</text><text x="567.35" y="744.6" textLength="46.34" lengthAdjust="spacingAndGlyphs">Pixels</text><text x="621.41" y="744.6" textLength="44.87" lengthAdjust="spacingAndGlyphs">Which</text><text x="674.12" y="744.6" textLength="36.04" lengthAdjust="spacingAndGlyphs">Were</text><text x="720.81" y="744.6" textLength="43.82" lengthAdjust="spacingAndGlyphs">Warm</text><text x="771.69" y="744.6" textLength="45.29" lengthAdjust="spacingAndGlyphs">Pixels</text><text x="826.00" y="744.6" textLength="49.93" lengthAdjust="spacingAndGlyphs">during</text><text x="883.60" y="744.6" textLength="25.02" lengthAdjust="spacingAndGlyphs">the</text><text x="917.29" y="744.6" textLength="62.13" lengthAdjust="spacingAndGlyphs">Mission:</text><text x="988.07" y="744.6" textLength="31.55" lengthAdjust="spacingAndGlyphs">CCD</text><text x="1027.37" y="744.6" textLength="10.48" lengthAdjust="spacingAndGlyphs">5</text>
<text x="92.72" y="332.2" textLength="11.17" lengthAdjust="spacingAndGlyphs">0</text><text x="189.52" y="332.2" textLength="31.08" lengthAdjust="spacingAndGlyphs">500</text><text x="291.97" y="332.2" textLength="40.36" lengthAdjust="spacingAndGlyphs">1000</text><text x="398.71" y="332.2" textLength="40.36" lengthAdjust="spacingAndGlyphs">1500</text><text x="504.53" y="332.2" textLength="41.30" lengthAdjust="spacingAndGlyphs">2000</text><text x="611.27" y="332.2" textLength="41.30" lengthAdjust="spacingAndGlyphs">2500</text><text x="718.22" y="332.2" textLength="41.08" lengthAdjust="spacingAndGlyphs">3000</text><text x="824.96" y="332.2" textLength="41.08" lengthAdjust="spacingAndGlyphs">3500</text><text x="932.01" y="332.2" textLength="40.76" lengthAdjust="spacingAndGlyphs">4000</text><text x="1038.75" y="332.2" textLength="40.76" lengthAdjust="spacingAndGlyphs">4500</text><text x="1145.18" y="332.2" textLength="41.08" lengthAdjust="spacingAndGlyphs">5000</text><text x="1251.92" y="332.2" textLength="41.08" lengthAdjust="spacingAndGlyphs">5500</text>
<text x="656.72" y="365.3" textLength="37.37" lengthAdjust="spacingAndGlyphs">Time</text><text x="702.52" y="365.3" textLength="47.94" lengthAdjust="spacingAndGlyphs">(DOM)</text>
<text transform="translate(63.3 211.5) rotate(-90)" x="-27.15" y="0" textLength="54.15" lengthAdjust="spacingAndGlyphs">Counts</text><text transform="translate(88 310.2) rotate(-90)" x="-5.58" y="0" textLength="11.17" lengthAdjust="spacingAndGlyphs">0</text><text transform="translate(88 241.5) rotate(-90)" x="-9.82" y="0" textLength="20.36" lengthAdjust="spacingAndGlyphs">10</text><text transform="translate(88 172.8) rotate(-90)" x="-10.76" y="0" textLength="21.33" lengthAdjust="spacingAndGlyphs">20</text>
<text x="92.72" y="664.2" textLength="11.17" lengthAdjust="spacingAndGlyphs">0</text><text x="189.52" y="664.2" textLength="31.08" lengthAdjust="spacingAndGlyphs">500</text><text x="291.97" y="664.2" textLength="40.36" lengthAdjust="spacingAndGlyphs">1000</text><text x="398.71" y="664.2" textLength="40.36" lengthAdjust="spacingAndGlyphs">1500</text><text x="504.53" y="664.2" textLength="41.30" lengthAdjust="spacingAndGlyphs">2000</text><text x="611.27" y="664.2" textLength="41.30" lengthAdjust="spacingAndGlyphs">2500</text><text x="718.22" y="664.2" textLength="41.08" lengthAdjust="spacingAndGlyphs">3000</text><text x="824.96" y="664.2" textLength="41.08" lengthAdjust="spacingAndGlyphs">3500</text><text x="932.01" y="664.2" textLength="40.76" lengthAdjust="spacingAndGlyphs">4000</text><text x="1038.75" y="664.2" textLength="40.76" lengthAdjust="spacingAndGlyphs">4500</text><text x="1145.18" y="664.2" textLength="41.08" lengthAdjust="spacingAndGlyphs">5000</text><text x="1251.92" y="664.2" textLength="41.08" lengthAdjust="spacingAndGlyphs">5500</text>
<text x="656.72" y="697.3" textLength="37.37" lengthAdjust="spacingAndGlyphs">Time</text><text x="702.52" y="697.3" textLength="47.94" lengthAdjust="spacingAndGlyphs">(DOM)</text>
<text transform="translate(63.3 544) rotate(-90)" x="-27.15" y="0" textLength="54.15" lengthAdjust="spacingAndGlyphs">Counts</text><text transform="translate(88 643.3) rotate(-90)" x="-5.58" y="0" textLength="11.17" lengthAdjust="spacingAndGlyphs">0</text><text transform="translate(88 551.7) rotate(-90)" x="-10.54" y="0" textLength="21.10" lengthAdjust="spacingAndGlyphs">50</text><text transform="translate(88 460) rotate(-90)" x="-14.82" y="0" textLength="30.36" lengthAdjust="spacingAndGlyphs">100</text>
<text x="92.72" y="997.2" textLength="11.17" lengthAdjust="spacingAndGlyphs">0</text><text x="189.52" y="997.2" textLength="31.08" lengthAdjust="spacingAndGlyphs">500</text><text x="291.97" y="997.2" textLength="40.36" lengthAdjust="spacingAndGlyphs">1000</text><text x="398.71" y="997.2" textLength="40.36" lengthAdjust="spacingAndGlyphs">1500</text><text x="504.53" y="997.2" textLength="41.30" lengthAdjust="spacingAndGlyphs">2000</text><text x="611.27" y="997.2" textLength="41.30" lengthAdjust="spacingAndGlyphs">2500</text><text x="718.22" y="997.2" textLength="41.08" lengthAdjust="spacingAndGlyphs">3000</text><text x="824.96" y="997.2" textLength="41.08" lengthAdjust="spacingAndGlyphs">3500</text><text x="932.01" y="997.2" textLength="40.76" lengthAdjust="spacingAndGlyphs">4000</text><text x="1038.75" y="997.2" textLength="40.76" lengthAdjust="spacingAndGlyphs">4500</text><text x="1145.18" y="997.2" textLength="41.08" lengthAdjust="spacingAndGlyphs">5000</text><text x="1251.92" y="997.2" textLength="41.08" lengthAdjust="spacingAndGlyphs">5500</text>
<text x="656.72" y="1030.3" textLength="37.37" lengthAdjust="spacingAndGlyphs">Time</text><text x="702.52" y="1030.3" textLength="47.94" lengthAdjust="spacingAndGlyphs">(DOM)</text>
<text transform="translate(63.3 876.5) rotate(-90)" x="-27.15" y="0" textLength="54.15" lengthAdjust="spacingAndGlyphs">Counts</text><text transform="translate(88 971) rotate(-90)" x="-15.21" y="0" textLength="30.76" lengthAdjust="spacingAndGlyphs">430</text><text transform="translate(88 921) rotate(-90)" x="-15.21" y="0" textLength="30.76" lengthAdjust="spacingAndGlyphs">440</text><text transform="translate(88 871) rotate(-90)" x="-15.21" y="0" textLength="30.76" lengthAdjust="spacingAndGlyphs">450</text><text transform="translate(88 821) rotate(-90)" x="-15.21" y="0" textLength="30.76" lengthAdjust="spacingAndGlyphs">460</text>
</svg>
</body></html>
